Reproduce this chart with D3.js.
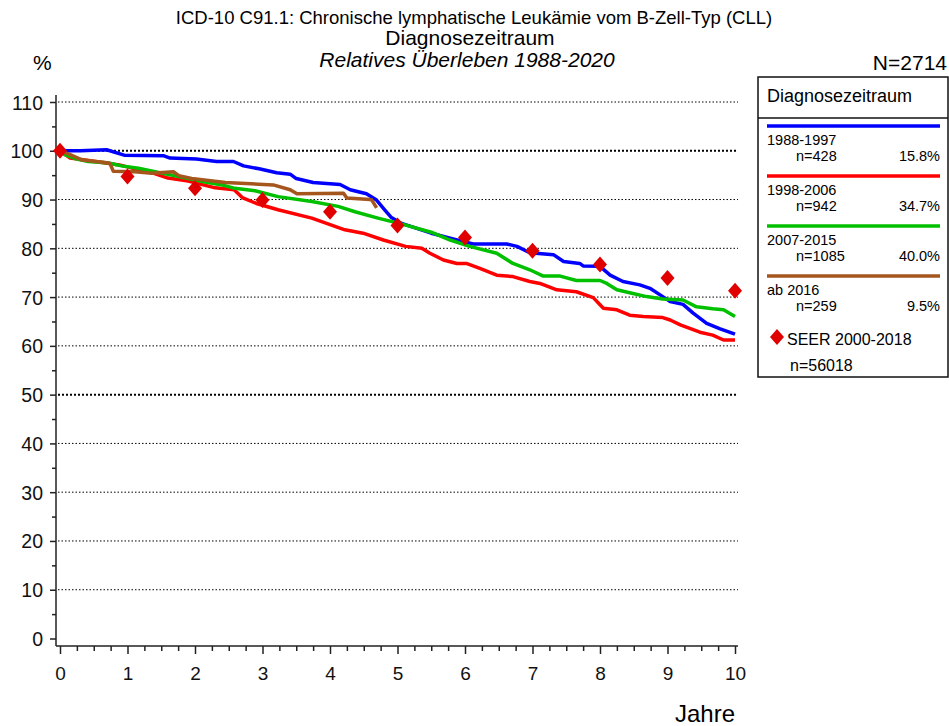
<!DOCTYPE html>
<html lang="de">
<head>
<meta charset="UTF-8">
<title>Relatives Überleben CLL</title>
<script src="https://d3js.org/d3.v7.min.js"></script>
<style>
  body { margin: 0; background: #fff; }
  svg { display: block; font-family: "Liberation Sans", Arial, sans-serif; }
  .grid { stroke: #000; stroke-width: 1; stroke-dasharray: 1.5 2; }
  .grid.bold { stroke-width: 2; stroke-dasharray: 2 2; }
  .axis path { display: none; }
  .axis line { stroke: #222; stroke-width: 1.5; }
  .curve { fill: none; stroke-width: 3.5; stroke-linejoin: round; }
</style>
</head>
<body>
<svg id="chart" width="949" height="726"></svg>
<script>
// --- data ---
const t1988 = [0, 0.3, 0.69, 0.95, 1.53, 1.63, 2.02, 2.32, 2.57, 2.72, 2.95, 3.21, 3.41, 3.5, 3.75, 4.15, 4.3, 4.54, 4.69, 4.81, 4.91, 5.06, 5.5, 5.78, 6.12, 6.62, 6.77, 6.96, 7.31, 7.46, 7.7, 7.75, 8.0, 8.15, 8.34, 8.59, 8.74, 8.93, 9.04, 9.23, 9.38, 9.58, 9.78, 10];
const s1988 = [100, 100, 100.2, 99.1, 99.0, 98.5, 98.3, 97.8, 97.8, 96.9, 96.3, 95.5, 95.2, 94.3, 93.5, 93.1, 92.0, 91.2, 89.9, 87.9, 86.3, 85.1, 83.1, 82.1, 80.9, 80.9, 80.4, 79.1, 78.7, 77.3, 76.9, 76.4, 76.3, 74.5, 73.2, 72.5, 71.8, 70.1, 69.1, 68.5, 66.7, 64.6, 63.5, 62.4];

const t1998 = [0, 0.15, 0.42, 0.88, 1.08, 1.38, 1.6, 1.9, 2.3, 2.58, 2.7, 2.91, 3.23, 3.73, 4.22, 4.49, 4.79, 5.12, 5.36, 5.48, 5.68, 5.88, 6.02, 6.22, 6.47, 6.71, 6.96, 7.11, 7.36, 7.65, 7.9, 8.05, 8.25, 8.44, 8.64, 8.93, 9.04, 9.19, 9.48, 9.67, 9.83, 10];
const s1998 = [100, 98.5, 98.0, 97.1, 96.4, 95.4, 94.4, 93.8, 92.4, 92.0, 90.4, 89.2, 87.9, 86.2, 83.8, 83.1, 81.7, 80.4, 80.0, 79.0, 77.6, 76.9, 76.9, 75.9, 74.5, 74.2, 73.2, 72.8, 71.5, 71.1, 69.9, 67.7, 67.4, 66.3, 66.0, 65.8, 65.3, 64.3, 62.8, 62.2, 61.2, 61.2];

const t2007 = [0, 0.07, 0.25, 0.42, 0.72, 0.91, 1.16, 1.41, 1.65, 1.9, 2.15, 2.4, 2.59, 2.89, 3.23, 3.73, 4.12, 4.37, 4.71, 5.11, 5.5, 5.78, 6.07, 6.47, 6.71, 6.96, 7.16, 7.41, 7.65, 8.0, 8.1, 8.25, 8.44, 8.69, 8.93, 9.23, 9.43, 9.67, 9.83, 10];
const s2007 = [100, 99.2, 98.3, 97.8, 97.5, 96.9, 96.4, 95.7, 95.0, 94.3, 93.6, 93.0, 92.3, 91.8, 90.6, 89.6, 88.6, 87.5, 86.2, 84.8, 83.3, 81.7, 80.4, 79.0, 76.9, 75.6, 74.3, 74.3, 73.4, 73.4, 72.8, 71.5, 70.9, 70.1, 69.6, 69.4, 68.0, 67.6, 67.4, 66.0];

const t2016 = [0, 0.15, 0.33, 0.67, 0.74, 0.79, 1.11, 1.36, 1.68, 1.76, 1.95, 2.45, 3.16, 3.41, 3.51, 4.2, 4.25, 4.59, 4.62, 4.69];
const s2016 = [100, 99.2, 98.1, 97.6, 97.4, 95.8, 95.7, 95.4, 95.7, 94.9, 94.3, 93.5, 93.0, 92.0, 91.2, 91.3, 90.3, 90.0, 89.9, 88.3];

const seerYears = [0, 1, 2, 3, 4, 5, 6, 7, 8, 9, 10];
const seerValues = [100, 94.7, 92.3, 89.9, 87.5, 84.7, 82.2, 79.5, 76.7, 73.9, 71.3];

const groupLabels = ["1988-1997", "1998-2006", "2007-2015", "ab 2016"];
const groupN = ["n=428", "n=942", "n=1085", "n=259"];
const groupPct = ["15.8%", "34.7%", "40.0%", "9.5%"];
const groupColors = ["#0000ff", "#ff0000", "#00c000", "#a5561c"];
const seerColor = "#e00000";

const titleLines = [
  "ICD-10 C91.1: Chronische lymphatische Leukämie vom B-Zell-Typ (CLL)",
  "Diagnosezeitraum",
  "Relatives Überleben 1988-2020"
];

const series = [
  { t: t1988, s: s1988, color: groupColors[0] },
  { t: t1998, s: s1998, color: groupColors[1] },
  { t: t2007, s: s2007, color: groupColors[2] },
  { t: t2016, s: s2016, color: groupColors[3] }
];

const svg = d3.select("#chart");

const x = d3.scaleLinear().domain([0, 10]).range([60, 735]);
const y = d3.scaleLinear().domain([0, 110]).range([638.5, 102]);
const axisX = 56, axisY = 646;

// titles
svg.append("text").attr("x", 474).attr("y", 24).attr("text-anchor", "middle")
  .style("font-size", "18.5px").text(titleLines[0]);
svg.append("text").attr("x", 470).attr("y", 45).attr("text-anchor", "middle")
  .style("font-size", "21px").text(titleLines[1]);
svg.append("text").attr("x", 467).attr("y", 67).attr("text-anchor", "middle")
  .style("font-size", "21px").style("font-style", "italic").text(titleLines[2]);
svg.append("text").attr("x", 33).attr("y", 70).style("font-size", "21px").text("%");
svg.append("text").attr("x", 947).attr("y", 70).attr("text-anchor", "end")
  .style("font-size", "21px").text("N=2714");

// grid
svg.append("g").selectAll("line")
  .data(d3.range(10, 111, 10))
  .join("line")
  .attr("class", d => (d === 50 || d === 100) ? "grid bold" : "grid")
  .attr("x1", axisX + 2).attr("x2", 738)
  .attr("y1", d => y(d)).attr("y2", d => y(d));

// axes
svg.append("g").attr("class", "axis")
  .attr("transform", `translate(${axisX},0)`)
  .call(d3.axisLeft(y).tickValues(d3.range(0, 111, 10)).tickSize(6).tickPadding(7).tickFormat(d3.format("d")))
  .call(g => g.selectAll("text").style("font-size", "19.5px").attr("fill", "#111").attr("dy", "0.36em"));
svg.append("g").attr("class", "axis")
  .attr("transform", `translate(${axisX},0)`)
  .call(d3.axisLeft(y).tickValues(d3.range(5, 110, 10)).tickSize(4).tickFormat(""));

svg.append("g").attr("class", "axis")
  .attr("transform", `translate(0,${axisY})`)
  .call(d3.axisBottom(x).tickValues(d3.range(0, 11, 1)).tickSize(8).tickPadding(13).tickFormat(d3.format("d")))
  .call(g => g.selectAll("text").style("font-size", "19px").attr("fill", "#111"));
svg.append("g").attr("class", "axis")
  .attr("transform", `translate(0,${axisY})`)
  .call(d3.axisBottom(x).tickValues(d3.range(0, 10, 0.25).filter(d => d % 1 !== 0)).tickSize(5).tickFormat(""));

svg.append("line").attr("x1", axisX).attr("x2", axisX).attr("y1", 95).attr("y2", axisY)
  .attr("stroke", "#222").attr("stroke-width", 1.5);
svg.append("line").attr("x1", axisX).attr("x2", 738).attr("y1", axisY).attr("y2", axisY)
  .attr("stroke", "#222").attr("stroke-width", 1.5);

svg.append("text").attr("x", 735).attr("y", 722).attr("text-anchor", "end")
  .style("font-size", "24px").text("Jahre");

// curves
const line = d3.line().x(d => x(d[0])).y(d => y(d[1]));
svg.append("g").selectAll("path")
  .data(series)
  .join("path")
  .attr("class", "curve")
  .attr("stroke", d => d.color)
  .attr("d", d => line(d.t.map((t, i) => [t, d.s[i]])));

// SEER diamonds
const diamond = (cx, cy) => `M${cx},${cy - 8}L${cx + 7},${cy}L${cx},${cy + 8}L${cx - 7},${cy}Z`;
svg.append("g").selectAll("path")
  .data(seerYears)
  .join("path")
  .attr("fill", seerColor)
  .attr("d", (d, i) => diamond(x(d), y(seerValues[i])));

// legend
const lg = svg.append("g");
lg.append("rect").attr("x", 758).attr("y", 77).attr("width", 190).attr("height", 300)
  .attr("fill", "#fff").attr("stroke", "#111").attr("stroke-width", 1.5);
lg.append("line").attr("x1", 758).attr("x2", 948).attr("y1", 118).attr("y2", 118)
  .attr("stroke", "#111").attr("stroke-width", 1.5);
lg.append("text").attr("x", 767).attr("y", 102).style("font-size", "18px").text("Diagnosezeitraum");

const items = lg.selectAll("g.item")
  .data(groupLabels)
  .join("g")
  .attr("class", "item")
  .attr("transform", (d, i) => `translate(0,${126 + i * 50})`);
items.append("line").attr("x1", 767).attr("x2", 940).attr("y1", 0).attr("y2", 0)
  .attr("stroke", (d, i) => groupColors[i]).attr("stroke-width", 3.5);
items.append("text").attr("x", 767).attr("y", 18.5).style("font-size", "14.5px").text(d => d);
items.append("text").attr("x", 796).attr("y", 35).style("font-size", "14.5px").text((d, i) => groupN[i]);
items.append("text").attr("x", 940).attr("y", 35).attr("text-anchor", "end")
  .style("font-size", "14.5px").text((d, i) => groupPct[i]);

lg.append("path").attr("fill", seerColor).attr("d", diamond(777, 337));
lg.append("text").attr("x", 787).attr("y", 345).style("font-size", "16px").text("SEER 2000-2018");
lg.append("text").attr("x", 790).attr("y", 371).style("font-size", "16px").text("n=56018");
</script>
</body>
</html>
